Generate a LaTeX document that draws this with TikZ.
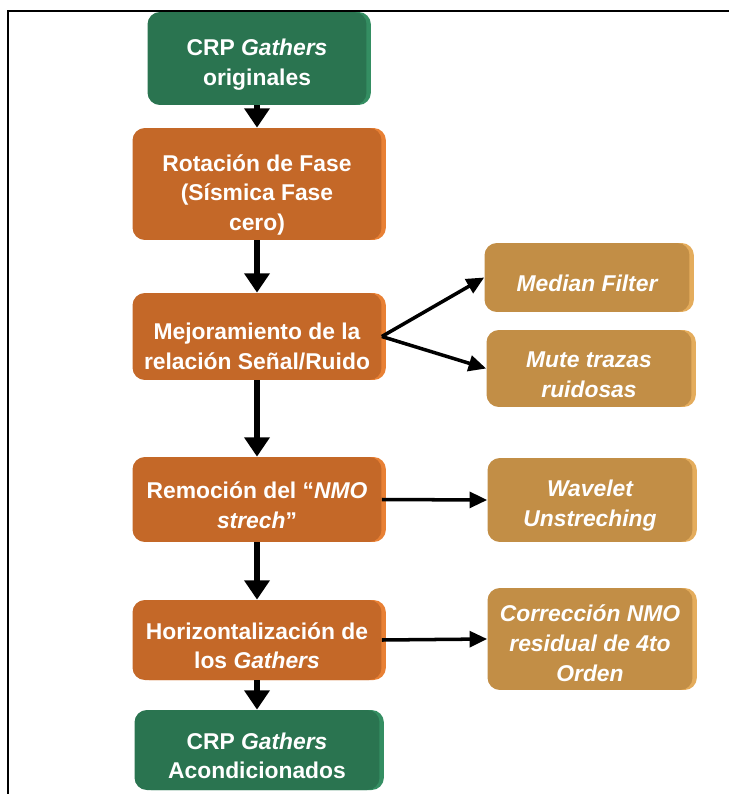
\documentclass[tikz,border=0pt]{standalone}
\usepackage{fontspec}
\setmainfont{Liberation Sans}
\usetikzlibrary{arrows.meta,shadows}
\definecolor{verde}{RGB}{42,116,80}
\definecolor{verdeclaro}{RGB}{52,142,98}
\definecolor{naranja}{RGB}{196,104,40}
\definecolor{naranjaclaro}{RGB}{232,128,52}
\definecolor{ocre}{RGB}{194,142,70}
\definecolor{ocreclaro}{RGB}{228,172,92}
\newcommand{\alto}[1][16pt]{\rule{0pt}{#1}}
\begin{document}
\begin{tikzpicture}[x=0.02cm,y=-0.02cm,
  caja/.style={rounded corners=7pt, text=white, font=\bfseries\fontsize{13}{17}\selectfont,
    align=center, inner sep=0pt},
  verdebox/.style={caja, fill=verde, drop shadow={shadow xshift=2.5pt, shadow yshift=0pt, fill=verdeclaro, opacity=1}},
  pasobox/.style={caja, fill=naranja, minimum width=4.98cm, drop shadow={shadow xshift=2.5pt, shadow yshift=0pt, fill=naranjaclaro, opacity=1}},
  ladobox/.style={caja, fill=ocre, font=\bfseries\itshape\fontsize{13}{17}\selectfont, minimum width=4.1cm,
    drop shadow={shadow xshift=2.5pt, shadow yshift=0pt, fill=ocreclaro, opacity=1}},
  flecha/.style={line width=3pt, -{Triangle[width=14pt,length=11pt]}},
  flechita/.style={line width=2pt, -{Triangle[width=9pt,length=10pt]}}]
\useasboundingbox (0,0) rectangle (729,794);
% Marco
\draw[line width=1pt] (729,11) -- (8,11) -- (8,794);
% Pasos principales
\node[verdebox, minimum width=4.38cm, minimum height=1.86cm] (ini) at (257,58.5) {\alto CRP \textit{Gathers}\\originales};
\node[pasobox, minimum height=2.24cm] (rot) at (257,184) {\alto[22pt]Rotación de Fase\\(Sísmica Fase\\cero)};
\node[pasobox, minimum height=1.74cm] (mej) at (257,336.5) {\alto[21pt]Mejoramiento de la\\relación Señal/Ruido};
\node[pasobox, minimum height=1.7cm] (rem) at (257,499.5) {\alto Remoción del “\textit{NMO}\\\textit{strech}”};
\node[pasobox, minimum height=1.6cm] (hor) at (257,640) {\alto Horizontalización de\\los \textit{Gathers}};
\node[verdebox, minimum width=4.9cm, minimum height=1.6cm] (fin) at (257,750) {\alto CRP \textit{Gathers}\\Acondicionados};
% Procesos laterales
\node[ladobox, minimum height=1.38cm] (med) at (587,277.5) {\alto Median Filter};
\node[ladobox, minimum height=1.54cm] (mut) at (589,368.5) {\alto Mute trazas\\ruidosas};
\node[ladobox, minimum height=1.68cm] (wav) at (590,500) {\alto Wavelet\\Unstreching};
\node[ladobox, minimum height=2.04cm] (cor) at (590,639) {\alto[14pt]Corrección NMO\\residual de 4to\\Orden};
% Flechas
\draw[flecha] (ini) -- (rot);
\draw[flecha] (rot) -- (mej);
\draw[flecha] (mej) -- (rem);
\draw[flecha] (rem) -- (hor);
\draw[flecha] (hor) -- (fin);
\draw[flechita] (mej.east) -- (med.west);
\draw[flechita] (mej.east) -- (mut.west);
\draw[flechita] (rem.east) -- (wav.west);
\draw[flechita] (hor.east) -- (cor.west);
\end{tikzpicture}
\end{document}
